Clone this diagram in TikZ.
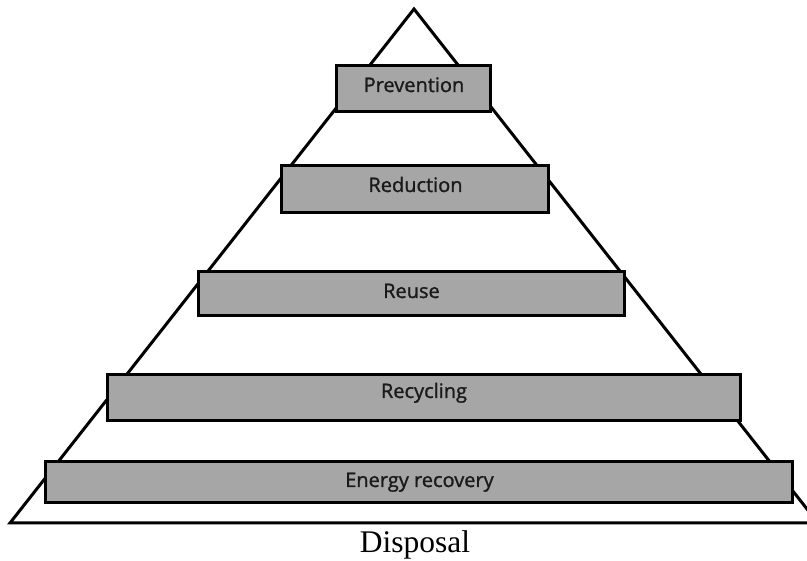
\documentclass[tikz,border=0pt]{standalone}
\usepackage{fontspec}
\newfontfamily\boxfont[FakeBold=1.2]{Open Sans}
\newfontfamily\capfont{Liberation Serif}
\definecolor{boxgray}{HTML}{A6A6A6}
\definecolor{txt}{HTML}{1A1A1A}
\begin{document}
\begin{tikzpicture}[x=1pt,y=-1pt,
  tri/.style={draw=black, line width=3pt, line join=miter},
  level/.style={draw=black, line width=3.3pt, fill=boxgray, inner sep=0pt, outer sep=0pt},
  lbl/.style={anchor=base, inner sep=0pt, text=txt, font=\boxfont\fontsize{20}{20}\selectfont},
  bottomlbl/.style={anchor=base, inner sep=0pt, text=black, font=\capfont\fontsize{31.5}{31.5}\selectfont}]
\useasboundingbox (0,0) rectangle (807,561);
\clip (0,0) rectangle (807,561);
\coordinate (apex) at (414,9);
\coordinate (bl) at (10,523);
\coordinate (br) at (818,523);
\draw[tri] (apex) -- (br) -- (bl) -- cycle;
\node[level, minimum width=154pt, minimum height=46pt] (prev) at (413.5,88.5) {};
\node[level, minimum width=267pt, minimum height=47pt] (red) at (415,189) {};
\node[level, minimum width=426pt, minimum height=44pt] (reuse) at (411.5,293.5) {};
\node[level, minimum width=633pt, minimum height=46pt] (rec) at (424,397.5) {};
\node[level, minimum width=747pt, minimum height=41pt] (en) at (419,482) {};
\node[lbl] (tprev) at (414,92) {Prevention};
\node[lbl] (tred) at (415.5,192) {Reduction};
\node[lbl] (treuse) at (411.5,298) {Reuse};
\node[lbl] (trec) at (424,398) {Recycling};
\node[lbl] (ten) at (419.5,487) {Energy recovery};
\node[bottomlbl] (disp) at (415,553) {Disposal};
\end{tikzpicture}
\end{document}
